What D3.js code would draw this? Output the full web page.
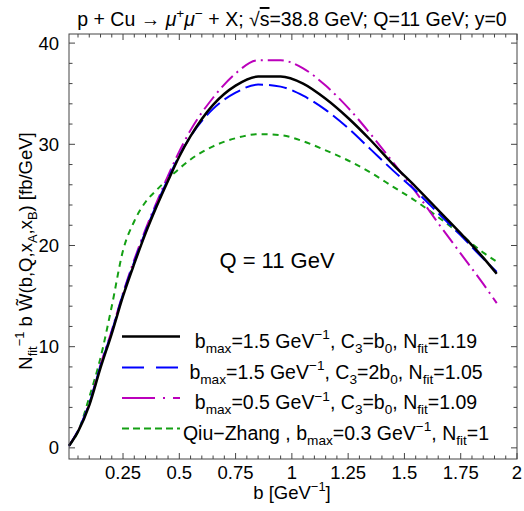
<!DOCTYPE html>
<html>
<head>
<meta charset="utf-8">
<script src="https://cdn.jsdelivr.net/npm/d3@7"></script>
<style>
  body { margin: 0; background: #fff; }
  svg { font-family: "Liberation Sans", Arial, sans-serif; }
</style>
</head>
<body>
<div id="chart"></div>
<script>
// b values (GeV^-1) at which the curves were read
const bValues = [0.01, 0.05, 0.1, 0.15, 0.2, 0.25, 0.3, 0.35, 0.4, 0.45, 0.5, 0.55, 0.65, 0.75, 0.85, 0.95, 1.05, 1.15, 1.25, 1.35, 1.45, 1.55, 1.65, 1.75, 1.85, 1.91];

const blackSolid = [0.2, 1.6, 4.2, 7.9, 11.3, 15.0, 18.2, 21.2, 23.9, 26.4, 28.8, 30.8, 33.9, 35.8, 36.7, 36.7, 36.0, 34.5, 32.6, 30.4, 28.0, 25.8, 23.5, 21.2, 18.8, 17.2];
const blueLongDash = [0.2, 1.7, 4.4, 8.1, 11.5, 15.2, 18.4, 21.4, 24.1, 26.6, 28.9, 30.8, 33.5, 35.1, 35.9, 35.7, 34.8, 33.4, 31.6, 29.5, 27.4, 25.4, 23.2, 21.0, 18.7, 17.4];
const magentaDashDot = [0.2, 1.7, 4.4, 8.2, 11.6, 15.3, 18.6, 21.6, 24.3, 26.9, 29.3, 31.4, 34.6, 37.0, 38.3, 38.3, 37.5, 35.8, 33.6, 31.0, 28.2, 25.3, 22.2, 19.2, 16.2, 14.3];
const greenQiuZhang = [0.2, 1.6, 5.0, 8.9, 14.0, 19.5, 22.4, 24.3, 25.5, 26.6, 27.6, 28.5, 29.8, 30.6, 31.0, 30.9, 30.3, 29.4, 28.4, 27.2, 25.8, 24.4, 22.8, 21.1, 19.3, 18.4];

const xTickValues = [0.25, 0.5, 0.75, 1, 1.25, 1.5, 1.75, 2];
const xTickLabels = ['0.25', '0.5', '0.75', '1', '1.25', '1.5', '1.75', '2'];
const yTickValues = [0, 10, 20, 30, 40];

const width = 524, height = 511;
const frame = { left: 69, right: 517, top: 34, bottom: 459 };

const svg = d3.select('#chart').append('svg')
  .attr('width', width)
  .attr('height', height);

const x = d3.scaleLinear().domain([0.01, 2]).range([frame.left, frame.right]);
const y = d3.scaleLinear().domain([-1.1, 40.9]).range([frame.bottom, frame.top]);

// text with sub/superscripts built from tspans
function rich(text, parts, fs) {
  let cur = 0;
  parts.forEach(([s, k]) => {
    const target = k === 'sub' ? 0.28 * fs : k === 'sup' ? -0.42 * fs : 0;
    const t = text.append('tspan').attr('dy', target - cur).text(s);
    if (k === 'sub' || k === 'sup') t.attr('font-size', 0.7 * fs);
    if (k === 'it') t.attr('font-style', 'italic');
    if (k === 'ov') t.style('text-decoration', 'overline');
    cur = target;
  });
}

// curves
const series = [
  { values: greenQiuZhang, color: '#14a014', dash: '6,5', w: 2 },
  { values: magentaDashDot, color: '#bb00bb', dash: '16,5,2,5', w: 2 },
  { values: blueLongDash, color: '#0000ff', dash: '18,6', w: 2 },
  { values: blackSolid, color: '#000', dash: null, w: 2.5 }
];

const line = d3.line()
  .curve(d3.curveMonotoneX)
  .x(d => x(d[0]))
  .y(d => y(d[1]));

series.forEach(s => {
  svg.append('path')
    .datum(bValues.map((b, i) => [b, s.values[i]]))
    .attr('d', line)
    .attr('fill', 'none')
    .attr('stroke', s.color)
    .attr('stroke-width', s.w)
    .attr('stroke-dasharray', s.dash);
});

// frame
svg.append('rect')
  .attr('x', frame.left).attr('y', frame.top)
  .attr('width', frame.right - frame.left)
  .attr('height', frame.bottom - frame.top)
  .attr('fill', 'none')
  .attr('stroke', '#444')
  .attr('stroke-width', 1);

// ticks on all four sides, pointing inwards
const ticks = svg.append('g').attr('stroke', '#444').attr('stroke-width', 1);
d3.range(0.05, 2.0001, 0.05).forEach(v => {
  const major = Math.abs(v / 0.25 - Math.round(v / 0.25)) < 1e-6;
  const len = major ? 6 : 3.5;
  const px = x(v);
  ticks.append('line').attr('x1', px).attr('x2', px).attr('y1', frame.bottom).attr('y2', frame.bottom - len);
  ticks.append('line').attr('x1', px).attr('x2', px).attr('y1', frame.top).attr('y2', frame.top + len);
});
d3.range(0, 40.001, 2).forEach(v => {
  const major = v % 10 === 0;
  const len = major ? 6 : 3.5;
  const py = y(v);
  ticks.append('line').attr('y1', py).attr('y2', py).attr('x1', frame.left).attr('x2', frame.left + len);
  ticks.append('line').attr('y1', py).attr('y2', py).attr('x1', frame.right).attr('x2', frame.right - len);
});

// tick labels
svg.append('g').selectAll('text')
  .data(xTickValues)
  .enter().append('text')
  .attr('x', d => x(d))
  .attr('y', 479)
  .attr('text-anchor', 'middle')
  .attr('font-size', 18.5)
  .text((d, i) => xTickLabels[i]);

svg.append('g').selectAll('text')
  .data(yTickValues)
  .enter().append('text')
  .attr('x', 59)
  .attr('y', d => y(d) + 6.5)
  .attr('text-anchor', 'end')
  .attr('font-size', 18.5)
  .text(d => d);

// title
const title = svg.append('text')
  .attr('x', 292).attr('y', 26)
  .attr('text-anchor', 'middle')
  .attr('font-size', 19.5);
rich(title, [
  ['p + Cu \u2192 ', ''], ['\u03bc', 'it'], ['+', 'sup'], ['\u03bc', 'it'], ['\u2212', 'sup'],
  [' + X; \u221a', ''], ['s', 'ov'], ['=38.8 GeV; Q=11 GeV; y=0', '']
], 19.5);

// axis labels
const xLabel = svg.append('text')
  .attr('x', 292).attr('y', 499)
  .attr('text-anchor', 'middle')
  .attr('font-size', 18.5);
rich(xLabel, [['b [GeV', ''], ['\u22121', 'sup'], [']', '']], 18.5);

const yLabel = svg.append('text')
  .attr('transform', 'translate(32,251) rotate(-90)')
  .attr('text-anchor', 'middle')
  .attr('font-size', 18.5);
rich(yLabel, [
  ['N', ''], ['fit', 'sub'], ['\u22121', 'sup'], [' b W\u0303(b,Q,x', ''], ['A', 'sub'], [',x', ''], ['B', 'sub'],
  [') [fb/GeV]', '']
], 18.5);

// annotation
svg.append('text')
  .attr('x', 277).attr('y', 268)
  .attr('text-anchor', 'middle')
  .attr('font-size', 22)
  .text('Q = 11 GeV');

// legend
const legendRows = [
  { color: '#000', dash: null, w: 2.5,
    parts: [['b', ''], ['max', 'sub'], ['=1.5 GeV', ''], ['\u22121', 'sup'], [', C', ''], ['3', 'sub'], ['=b', ''], ['0', 'sub'], [', N', ''], ['fit', 'sub'], ['=1.19', '']] },
  { color: '#0000ff', dash: '22,12', w: 2,
    parts: [['b', ''], ['max', 'sub'], ['=1.5 GeV', ''], ['\u22121', 'sup'], [', C', ''], ['3', 'sub'], ['=2b', ''], ['0', 'sub'], [', N', ''], ['fit', 'sub'], ['=1.05', '']] },
  { color: '#bb00bb', dash: '33,8,2,8', w: 2,
    parts: [['b', ''], ['max', 'sub'], ['=0.5 GeV', ''], ['\u22121', 'sup'], [', C', ''], ['3', 'sub'], ['=b', ''], ['0', 'sub'], [', N', ''], ['fit', 'sub'], ['=1.09', '']] },
  { color: '#14a014', dash: '7,4', w: 2,
    parts: [['Qiu\u2212Zhang , b', ''], ['max', 'sub'], ['=0.3 GeV', ''], ['\u22121', 'sup'], [', N', ''], ['fit', 'sub'], ['=1', '']] }
];
const legendY = [336.5, 367.5, 398, 428.5];

legendRows.forEach((r, i) => {
  svg.append('line')
    .attr('x1', 122).attr('x2', 180)
    .attr('y1', legendY[i]).attr('y2', legendY[i])
    .attr('stroke', r.color)
    .attr('stroke-width', r.w)
    .attr('stroke-dasharray', r.dash);
  const t = svg.append('text')
    .attr('x', 336).attr('y', legendY[i] + 11)
    .attr('text-anchor', 'middle')
    .attr('font-size', 19.5);
  rich(t, r.parts, 19.5);
});
</script>
</body>
</html>
